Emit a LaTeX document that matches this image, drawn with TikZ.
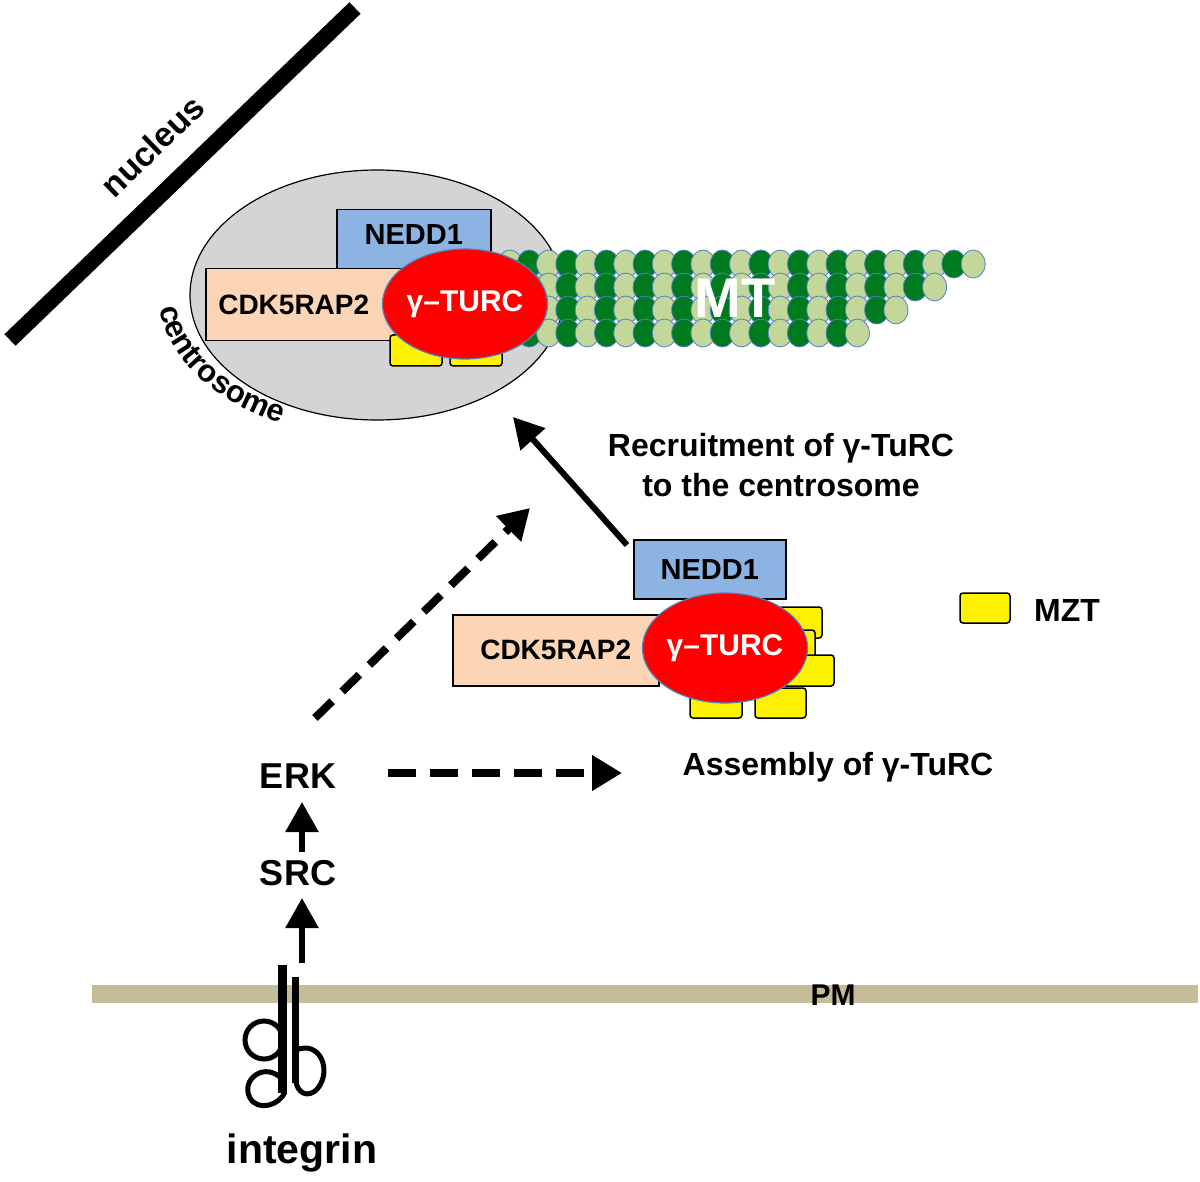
\documentclass[tikz,border=0pt]{standalone}
\usepackage{fontspec}
\setmainfont{Liberation Sans}
\usetikzlibrary{arrows.meta,decorations.text,shapes.geometric}
\definecolor{nedd}{HTML}{8DB3E2}
\definecolor{cdk}{HTML}{FBD5B5}
\definecolor{mtdark}{HTML}{007A1E}
\definecolor{mtlight}{HTML}{C4D79B}
\definecolor{mtedge}{HTML}{4F81BD}
\definecolor{pm}{HTML}{C4BD97}
\definecolor{cgray}{HTML}{D4D4D4}
\tikzset{
  lbl/.style={font=\bfseries\fontsize{28}{32}\selectfont, inner sep=0pt},
  box/.style={draw=black, line width=1.5pt, inner sep=0pt},
  mzt/.style={draw=black, fill=yellow, line width=1.5pt, rounded corners=3pt},
  turc/.style={ellipse, draw=mtedge, line width=1.2pt, fill=red, text=white, inner sep=0pt,
     font=\bfseries\fontsize{30}{34}\selectfont},
  arr/.style={line width=6pt, -{Triangle[length=30pt,width=32pt]}},
  darr/.style={line width=8pt, dash pattern=on 24pt off 14pt, -{Triangle[length=30pt,width=34pt]}},
}
\begin{document}
\begin{tikzpicture}[x=1pt,y=1pt]
\useasboundingbox (0,0) rectangle (1200,-1182);
% nucleus
\draw[line width=16pt] (10,-340) -- (355,-8);
\node[lbl, font=\bfseries\fontsize{34}{38}\selectfont, rotate=44] (nuc) at (152,-146) {nucleus};
% centrosome
\node[ellipse, draw=black, line width=1.2pt, fill=cgray, minimum width=374pt, minimum height=250pt] (cent) at (377,-295) {};
\path[decorate, decoration={text along path, text align=center,
  text={|\bfseries\fontsize{31}{34}\selectfont|centrosome}}]
  (375,-295) ++(168:216 and 142) arc[start angle=168, end angle=256, x radius=216, y radius=142];
\node[box, fill=nedd, minimum width=154pt, minimum height=59pt, anchor=north west, font=\bfseries\fontsize{29}{32}\selectfont] (n1) at (336,-209) {\raisebox{10pt}{NEDD1}};
\node[box, fill=cdk, minimum width=200pt, minimum height=72pt, anchor=north west, font=\bfseries\fontsize{28}{32}\selectfont] (c1) at (205,-268) {\hspace*{-24pt}CDK5RAP2};
\draw[mzt] (390,-335) rectangle (442,-366);
\draw[mzt] (450,-335) rectangle (502,-366);
% MT
\foreach \yy/\n in {264/24, 287/22, 310/20, 333/18}{
  \foreach \i in {0,...,\n}{
    \pgfmathsetmacro{\xx}{510+19.3*\i}
    \pgfmathparse{isodd(\i)}
    \ifnum\pgfmathresult=1
      \filldraw[fill=mtdark, draw=mtedge, line width=0.8pt] (\xx,-\yy) ellipse [x radius=12, y radius=14];
    \else
      \filldraw[fill=mtlight, draw=mtedge, line width=0.8pt] (\xx,-\yy) ellipse [x radius=12, y radius=14];
    \fi
  }
}
\node[turc, minimum width=142pt, minimum height=110pt] (t1) at (465,-304) {γ–TURC};
\node[lbl, text=white, font=\bfseries\fontsize{56}{60}\selectfont] (mt) at (735,-298) {MT};
% middle complex
\node[box, fill=nedd, minimum width=152pt, minimum height=59pt, anchor=north west, font=\bfseries\fontsize{29}{32}\selectfont] (n2) at (633,-539) {NEDD1};
\draw[mzt] (778,-607) rectangle (822,-638);
\draw[mzt] (770,-630) rectangle (815,-662);
\draw[mzt] (783,-655) rectangle (834,-686);
\draw[mzt] (690,-687) rectangle (742,-718);
\draw[mzt] (755,-688) rectangle (806,-718);
\node[box, fill=cdk, minimum width=206pt, minimum height=71pt, anchor=north west, font=\bfseries\fontsize{28}{32}\selectfont] (c2) at (452,-614) {CDK5RAP2};
\node[turc, minimum width=140pt, minimum height=110pt] (t2) at (725,-648) {γ–TURC};
% legend
\draw[mzt] (960,-593) rectangle (1010,-623);
\node[lbl, font=\bfseries\fontsize{32}{36}\selectfont] (mztl) at (1067,-610) {MZT};
% texts
\node[lbl, align=center, font=\bfseries\fontsize{32}{40}\selectfont] (rec) at (781,-465) {Recruitment of γ-TuRC\\to the centrosome};
\node[lbl, font=\bfseries\fontsize{32}{36}\selectfont] (asm) at (838,-767) {Assembly of γ-TuRC};
\node[lbl, font=\bfseries\fontsize{36}{40}\selectfont] (erk) at (298,-776) {ERK};
\node[lbl, font=\bfseries\fontsize{36}{40}\selectfont] (src) at (298,-873) {SRC};
\node[lbl, font=\bfseries\fontsize{41}{46}\selectfont] (integ) at (302,-1153) {integrin};
% arrows
\coordinate (a1s) at (627,-545); \coordinate (a1e) at (513,-417);
\draw[arr] (a1s) -- (a1e);
\coordinate (d1s) at (315,-718); \coordinate (d1e) at (530,-508);
\draw[darr] (d1s) -- (d1e);
\coordinate (d2s) at (388,-773); \coordinate (d2e) at (622,-773);
\draw[darr, dash pattern=on 28pt off 14pt] (d2s) -- (d2e);
\coordinate (s1) at (302,-852); \coordinate (s1e) at (302,-802);
\draw[arr] (s1) -- (s1e);
\coordinate (s2) at (302,-963); \coordinate (s2e) at (302,-898);
\draw[arr] (s2) -- (s2e);
% PM
\fill[pm] (92,-985) rectangle (1198,-1003);
\node[lbl, font=\bfseries\fontsize{30}{34}\selectfont] (pml) at (833,-995) {PM};
% integrin
\fill (278,-965) rectangle (287,-1093);
\fill (292,-977) rectangle (299,-1083);
\draw[line width=5pt] (283,-1040) arc[start angle=0, end angle=340, radius=19];
\draw[line width=5pt] (283,-1080) .. controls (265,-1060) and (240,-1080) .. (250,-1098) .. controls (258,-1112) and (280,-1105) .. (285,-1092);
\draw[line width=5pt] (296,-1050) .. controls (320,-1040) and (332,-1070) .. (318,-1088) .. controls (308,-1100) and (296,-1092) .. (296,-1080);
\end{tikzpicture}
\end{document}
